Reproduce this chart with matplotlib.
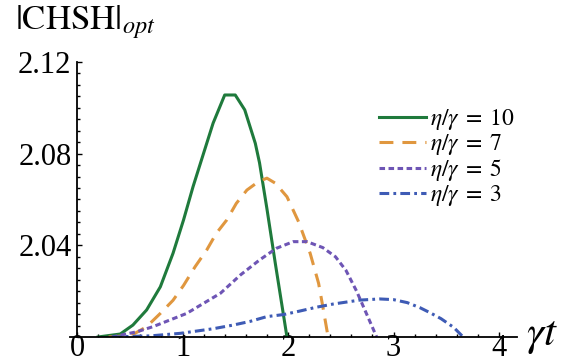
import numpy as np
from matplotlib import pyplot as plt

plt.rcParams['font.family'] = ['Liberation Serif', 'DejaVu Serif']
plt.rcParams['mathtext.fontset'] = 'stix'
plt.rcParams['lines.scale_dashes'] = False

# values (gamma*t, |CHSH|_opt)
t_10 = [0.20, 0.41, 0.53, 0.66, 0.79, 0.91, 1.01, 1.10, 1.20, 1.29, 1.40, 1.50, 1.59, 1.69, 1.73, 1.80, 1.88, 1.99]
chsh_10 = [2.000, 2.0013, 2.0052, 2.0118, 2.0219, 2.0365, 2.0511, 2.0656, 2.0802, 2.0933, 2.1056, 2.1056,
           2.0991, 2.0845, 2.0760, 2.0560, 2.0320, 2.000]

t_7 = [0.30, 0.44, 0.55, 0.66, 0.79, 0.91, 1.01, 1.12, 1.23, 1.32, 1.42, 1.51, 1.61, 1.72, 1.80, 1.88,
       1.99, 2.10, 2.21, 2.29, 2.33, 2.38]
chsh_7 = [2.000, 2.0005, 2.0016, 2.0045, 2.0103, 2.0160, 2.0225, 2.0307, 2.0380, 2.0452, 2.0511, 2.0583,
          2.0641, 2.0678, 2.0693, 2.0671, 2.0612, 2.0503, 2.0365, 2.0234, 2.0132, 2.000]

t_5 = [0.33, 0.57, 0.72, 0.88, 1.04, 1.20, 1.36, 1.55, 1.73, 1.89, 2.05, 2.18, 2.33, 2.45, 2.55, 2.65, 2.75, 2.84]
chsh_5 = [2.000, 2.0023, 2.0045, 2.0074, 2.0103, 2.0147, 2.0191, 2.0271, 2.0336, 2.0387, 2.0416, 2.0416,
          2.0390, 2.0350, 2.0290, 2.0200, 2.0095, 2.000]

t_3 = [0.33, 0.70, 0.98, 1.29, 1.48, 1.64, 1.80, 1.96, 2.11, 2.27, 2.43, 2.68, 2.87, 3.00, 3.13, 3.25, 3.35,
       3.45, 3.57, 3.66]
chsh_3 = [2.000, 2.0005, 2.0016, 2.0036, 2.0052, 2.0068, 2.0089, 2.0098, 2.0113, 2.0130, 2.0144, 2.0161,
          2.0166, 2.0163, 2.0150, 2.0128, 2.0105, 2.0080, 2.0042, 2.000]

labels = [r'$\eta/\gamma\;=\;10$', r'$\eta/\gamma\;=\;7$', r'$\eta/\gamma\;=\;5$', r'$\eta/\gamma\;=\;3$']
x_ticks = [0, 1, 2, 3, 4]
y_ticks = [2.04, 2.08, 2.12]

fig = plt.figure(figsize=(5.81, 3.64), dpi=100)
ax = fig.add_axes([0.1198, 0.0742, 0.770, 0.7555])

ax.plot(t_10, chsh_10, color='#1f7a3c', lw=2.2, label=labels[0])
ax.plot(t_7, chsh_7, color='#e0973f', lw=2.2, dashes=(10, 6.5), label=labels[1])
ax.plot(t_5, chsh_5, color='#6e55b5', lw=2.2, dashes=(4, 2.5), label=labels[2])
ax.plot(t_3, chsh_3, color='#3e5bb5', lw=2.2, dashes=(7, 3, 2, 3), label=labels[3])

ax.set_xlim(-0.07, 4.17)
ax.set_ylim(2.0, 2.12)

# mathematica style axes
for side in ['top', 'right']:
    ax.spines[side].set_visible(False)
ax.spines['left'].set_position(('data', 0))
ax.spines['left'].set_linewidth(1.3)
ax.spines['bottom'].set_linewidth(1.3)

ax.set_xticks(x_ticks)
ax.set_xticks(np.arange(0, 4.2, 0.2), minor=True)
ax.set_yticks(y_ticks)
ax.set_yticklabels(['{:.2f}'.format(v) for v in y_ticks])
ax.set_yticks(np.arange(2.0, 2.1201, 0.005), minor=True)
ax.tick_params(which='both', direction='in', labelsize=22, width=1)
ax.tick_params(which='major', length=3.5)
ax.tick_params(which='minor', length=2)
ax.tick_params(axis='x', pad=-2.5)
ax.tick_params(axis='y', pad=4)

fig.text(0.025, 0.94, r'$|\mathrm{CHSH}|_{opt}$', fontsize=25, va='center', ha='left')
fig.text(0.905, 0.075, r'$\gamma t$', fontsize=31, va='center', ha='left')

ax.legend(loc='upper left', bbox_to_anchor=(0.652, 0.705), bbox_transform=fig.transFigure,
          frameon=False, fontsize=17, handlelength=2.0, handletextpad=0.15,
          labelspacing=0.0, borderpad=0, borderaxespad=0)

fig.savefig('out.png', dpi=100)
